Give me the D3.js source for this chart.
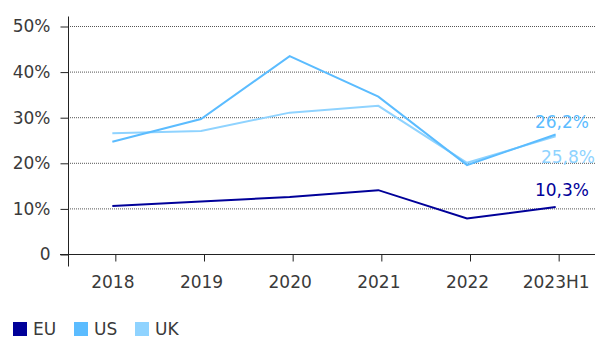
<!DOCTYPE html>
<html>
<head>
<meta charset="utf-8">
<script src="https://cdn.jsdelivr.net/npm/d3@7"></script>
<style>
  body { margin: 0; background: #fff; }
  text { font-family: "DejaVu Sans", sans-serif; }
</style>
</head>
<body>
<script>
// Chart data
const categories = ["2018", "2019", "2020", "2021", "2022", "2023H1"];
const euValues = [10.5, 11.5, 12.5, 14.0, 7.8, 10.3];
const usValues = [24.6, 29.6, 43.4, 34.5, 19.5, 26.2];
const ukValues = [26.5, 27.0, 31.0, 32.5, 20.0, 25.8];
const yTicks = [0, 10, 20, 30, 40, 50];
const seriesNames = ["EU", "US", "UK"];
const seriesColors = ["#000099", "#5bbcff", "#8fd3ff"];
const endLabels = ["10,3%", "26,2%", "25,8%"];

const width = 595;
const height = 338;
const fontSize = 17;

const svg = d3.select("body")
  .append("svg")
  .attr("width", width)
  .attr("height", height);

// Scales
const xScale = d3.scalePoint()
  .domain(categories)
  .range([68, 600])
  .padding(0.5);

const yScale = d3.scaleLinear()
  .domain([0, 50])
  .range([254, 26]);

// Dotted gridlines
svg.append("g")
  .selectAll("line")
  .data(yTicks.filter(d => d > 0))
  .enter()
  .append("line")
  .attr("x1", 68)
  .attr("x2", width)
  .attr("y1", d => yScale(d) + 0.5)
  .attr("y2", d => yScale(d) + 0.5)
  .attr("stroke", "#555")
  .attr("stroke-width", 1)
  .attr("stroke-dasharray", "1,1");

// Y axis
const yAxis = d3.axisLeft(yScale)
  .tickValues(yTicks)
  .tickSize(8)
  .tickPadding(10)
  .tickFormat(d => d === 0 ? "0" : d + "%");

const yG = svg.append("g")
  .attr("transform", "translate(68.5, 0.5)")
  .call(yAxis);
yG.select(".domain").attr("d", "M0,16V266").attr("stroke", "#222");
yG.selectAll("line").attr("stroke", "#222");
yG.selectAll("text")
  .attr("font-size", fontSize)
  .attr("fill", "#3a3a3a");

// X axis
const xAxis = d3.axisBottom(xScale)
  .tickSize(7)
  .tickPadding(14);

const xG = svg.append("g")
  .attr("transform", "translate(0, 254.5)")
  .call(xAxis);
xG.select(".domain").attr("d", `M60,0H${width}`).attr("stroke", "#222");
xG.selectAll(".tick line").attr("stroke", "#222").attr("transform", "translate(3,0)");
xG.selectAll("text")
  .attr("font-size", fontSize)
  .attr("fill", "#3a3a3a");

// Lines
const allSeries = [euValues, usValues, ukValues];
const line = d3.line()
  .x((d, i) => xScale(categories[i]))
  .y(d => yScale(d));

[2, 1, 0].forEach(s => {
  svg.append("path")
    .datum(allSeries[s])
    .attr("fill", "none")
    .attr("stroke", seriesColors[s])
    .attr("stroke-width", 2)
    .attr("d", line);
});

// End labels
const labelY = [190, 122, 157];
const labelX = [589, 589, 595];
[0, 1, 2].forEach(s => {
  svg.append("text")
    .attr("x", labelX[s])
    .attr("y", labelY[s])
    .attr("dy", "0.35em")
    .attr("text-anchor", "end")
    .attr("font-size", fontSize)
    .attr("fill", seriesColors[s])
    .text(endLabels[s]);
});

// Legend
const legend = svg.append("g")
  .selectAll("g")
  .data(seriesNames)
  .enter()
  .append("g")
  .attr("transform", (d, i) => `translate(${13 + i * 61}, 322)`);

legend.append("rect")
  .attr("width", 14)
  .attr("height", 14)
  .attr("fill", (d, i) => seriesColors[i]);

legend.append("text")
  .attr("x", 20)
  .attr("y", 7)
  .attr("dy", "0.35em")
  .attr("font-size", fontSize)
  .attr("fill", "#3a3a3a")
  .text(d => d);
</script>
</body>
</html>
